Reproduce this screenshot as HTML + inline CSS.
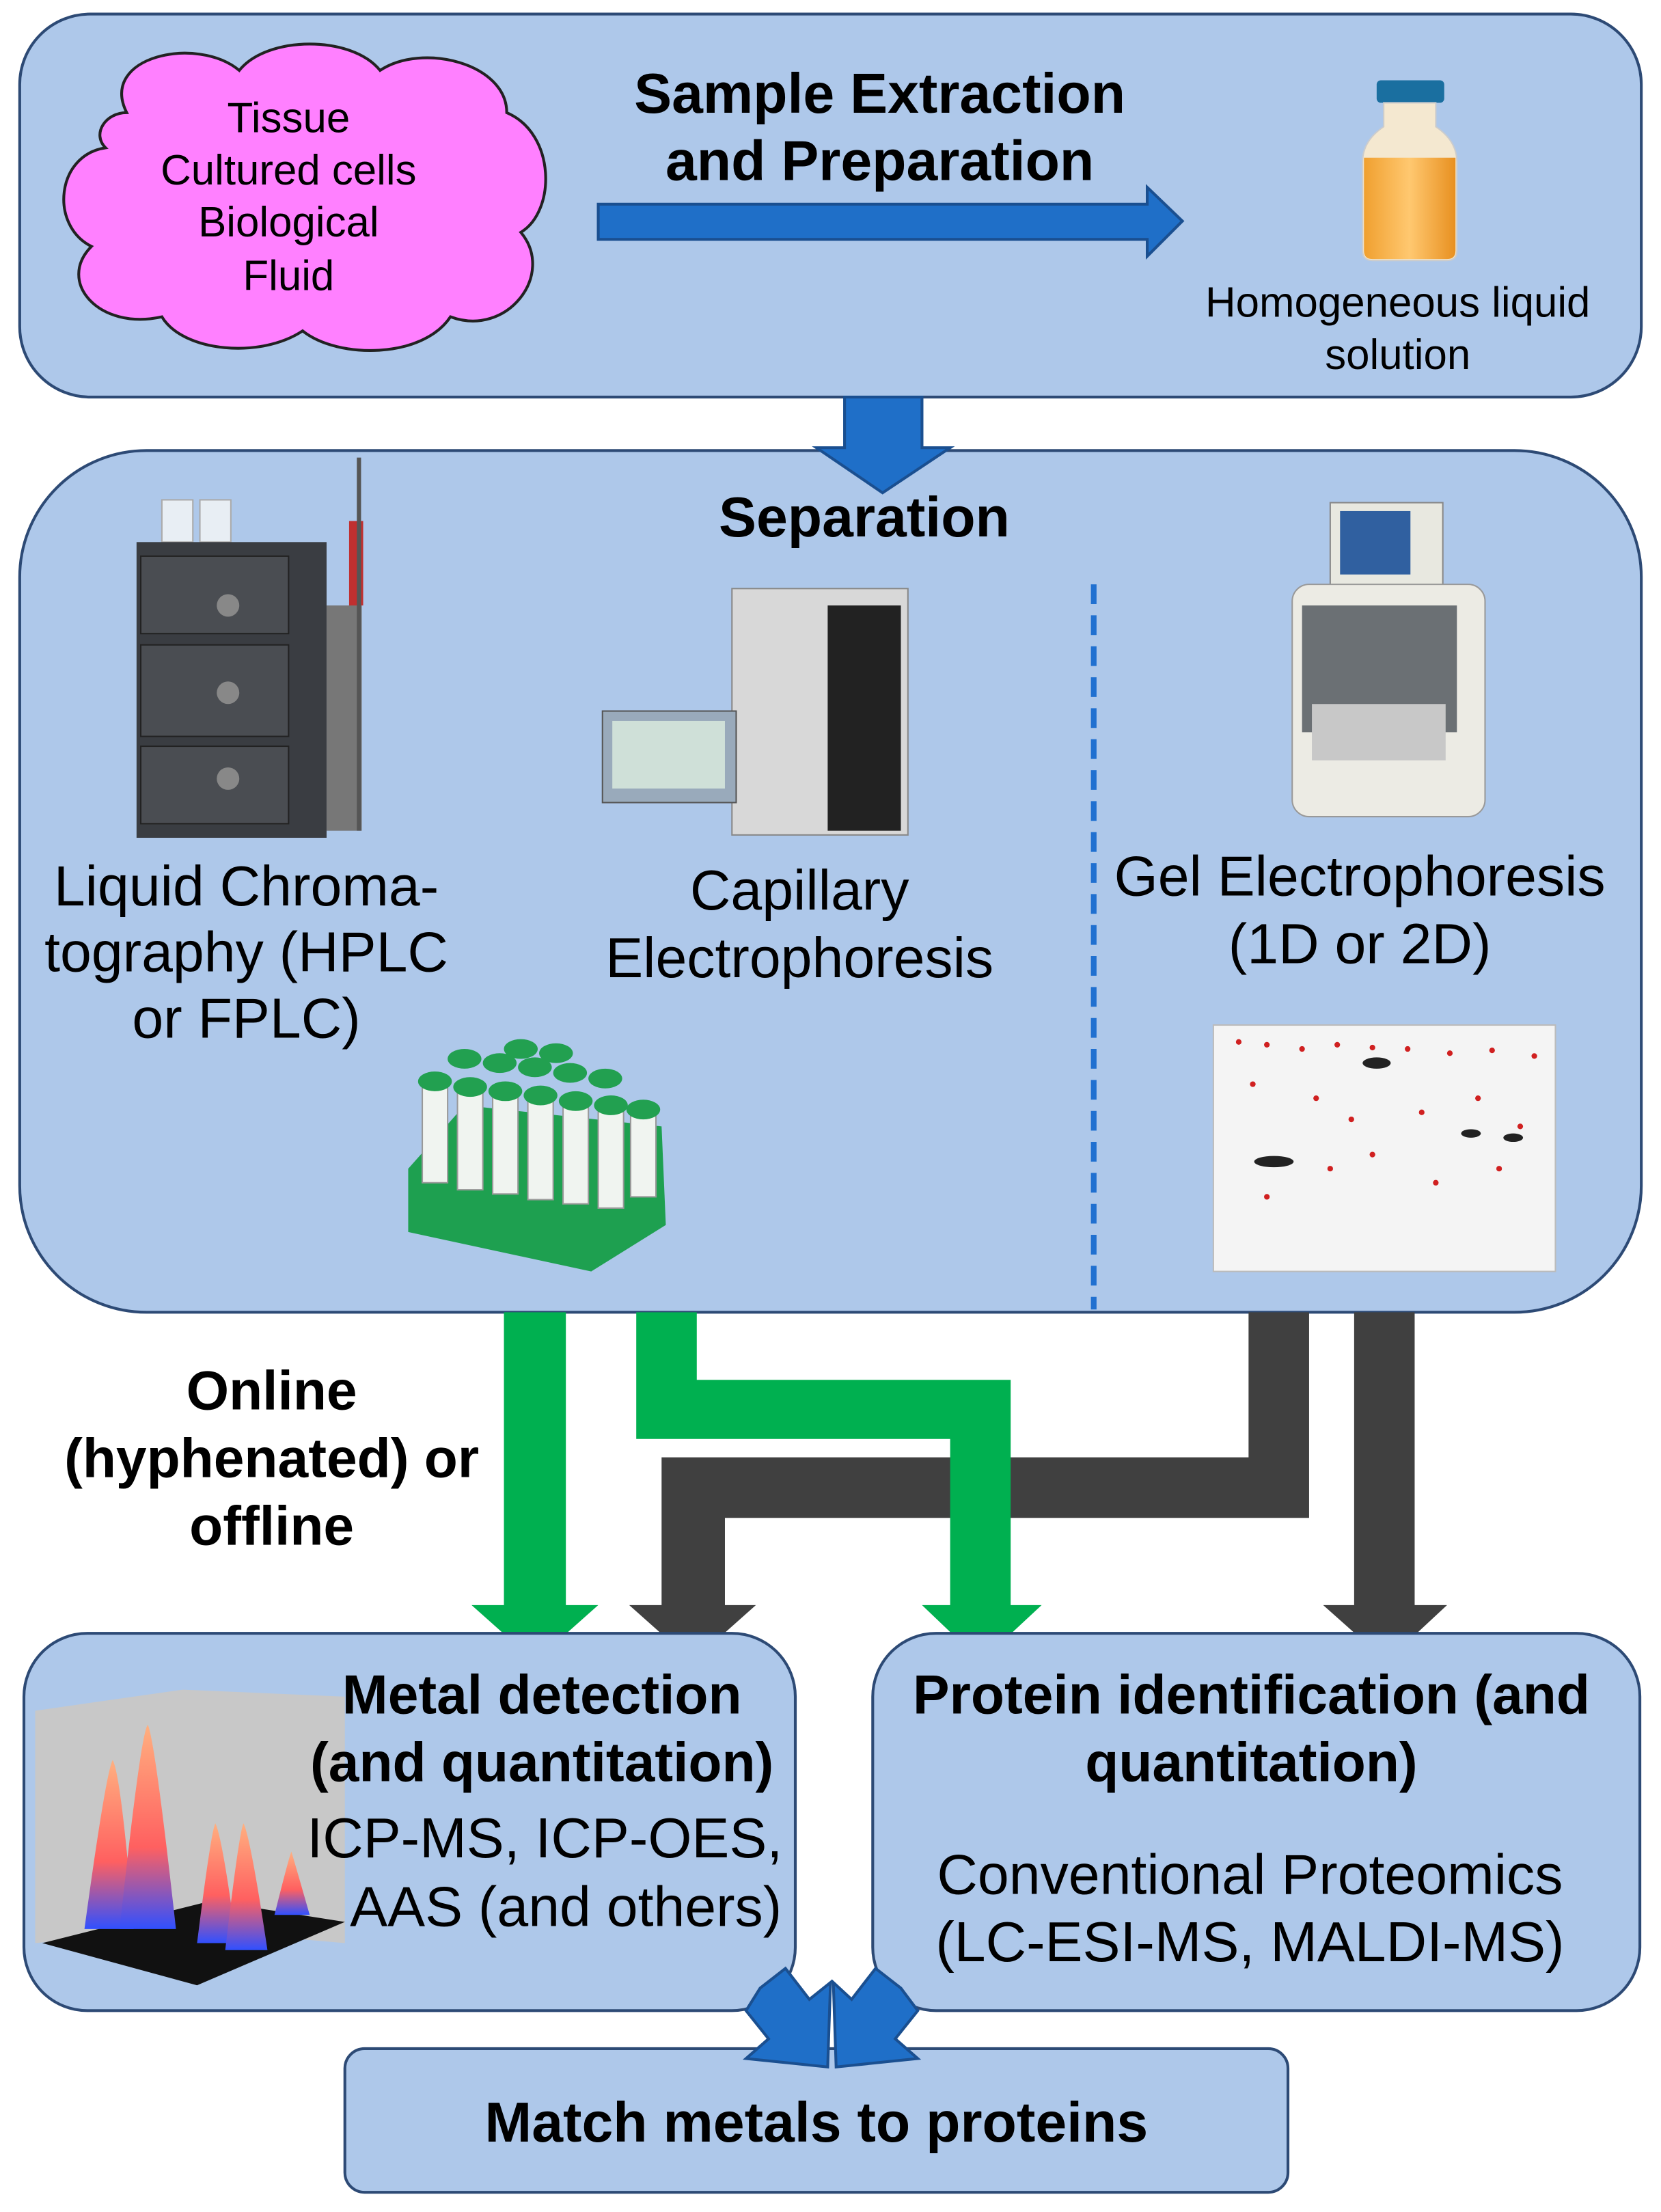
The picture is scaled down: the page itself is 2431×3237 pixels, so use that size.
<!DOCTYPE html>
<html><head><meta charset="utf-8"><style>html,body{margin:0;padding:0;background:#fff}svg{display:block}text{font-family:"Liberation Sans",Arial,sans-serif}</style></head>
<body>
<svg width="2431" height="3237" viewBox="0 0 1180 1571" preserveAspectRatio="none" xmlns="http://www.w3.org/2000/svg">
<defs>
<linearGradient id="liq" x1="0" x2="1"><stop offset="0" stop-color="#f0a030"/><stop offset="0.5" stop-color="#ffc870"/><stop offset="1" stop-color="#e89020"/></linearGradient>
<linearGradient id="pk" x1="0" y1="1" x2="0" y2="0"><stop offset="0" stop-color="#3050ff"/><stop offset="0.4" stop-color="#ff6060"/><stop offset="1" stop-color="#ffb080"/></linearGradient>
</defs>
<rect x="14" y="10" width="1152" height="272" rx="50" fill="#aec8ea" stroke="#2d4a75" stroke-width="2"/>
<g fill="#ff80ff" stroke="#222" stroke-width="2">
<path d="M90,80 C70,40 140,25 170,50 C190,25 250,25 270,50 C300,30 360,45 360,80 C395,95 395,150 370,165 C395,195 360,240 320,225 C300,255 240,255 215,235 C185,255 130,250 115,225 C70,235 40,200 65,175 C35,160 40,110 75,105 C65,95 75,80 90,80 Z"/>
</g>
<g font-size="30" text-anchor="middle" fill="#000">
<text x="205" y="94">Tissue</text><text x="205" y="131">Cultured cells</text><text x="205" y="168">Biological</text><text x="205" y="206">Fluid</text>
</g>
<g font-size="40" font-weight="bold" text-anchor="middle"><text x="625" y="80">Sample Extraction</text><text x="625" y="128">and Preparation</text></g>
<path d="M425,145 L815,145 L815,133 L840,157 L815,182 L815,170 L425,170 Z" fill="#1f6fc8" stroke="#1a4f90" stroke-width="2"/>
<rect x="978" y="57" width="48" height="16" rx="3" fill="#1a6fa0"/>
<path d="M983,73 L1020,73 L1020,90 Q1035,100 1035,115 L1035,178 Q1035,185 1028,185 L975,185 Q968,185 968,178 L968,115 Q968,100 983,90 Z" fill="#f4e8d0" stroke="#ccc"/>
<path d="M969,112 L1034,112 L1034,178 Q1034,184 1028,184 L975,184 Q969,184 969,178 Z" fill="url(#liq)"/>
<g font-size="30" text-anchor="middle"><text x="993" y="225">Homogeneous liquid</text><text x="993" y="262">solution</text></g>
<rect x="14" y="320" width="1152" height="612" rx="90" fill="#aec8ea" stroke="#2d4a75" stroke-width="2"/>
<path d="M600,282 L655,282 L655,318 L675,318 L627,350 L580,318 L600,318 Z" fill="#1f6fc8" stroke="#1a4f90" stroke-width="2"/>
<text x="614" y="381" font-size="40" font-weight="bold" text-anchor="middle">Separation</text>
<line x1="777" y1="415" x2="777" y2="930" stroke="#2070d0" stroke-width="4" stroke-dasharray="14,8"/>
<g>
<rect x="115" y="355" width="22" height="30" fill="#e8eef4" stroke="#aaa"/><rect x="142" y="355" width="22" height="30" fill="#e8eef4" stroke="#aaa"/>
<rect x="97" y="385" width="135" height="210" fill="#3a3d42"/>
<rect x="100" y="395" width="105" height="55" fill="#4a4d52" stroke="#222"/><rect x="100" y="458" width="105" height="65" fill="#4a4d52" stroke="#222"/><rect x="100" y="530" width="105" height="55" fill="#4a4d52" stroke="#222"/>
<circle cx="162" cy="430" r="8" fill="#888"/><circle cx="162" cy="492" r="8" fill="#888"/><circle cx="162" cy="553" r="8" fill="#888"/>
<rect x="232" y="430" width="25" height="160" fill="#777"/><rect x="248" y="370" width="10" height="60" fill="#c03030"/><line x1="255" y1="325" x2="255" y2="590" stroke="#555" stroke-width="3"/>
</g>
<g>
<rect x="520" y="418" width="125" height="175" fill="#d8d8d8" stroke="#888"/>
<rect x="588" y="430" width="52" height="160" fill="#222"/>
<rect x="428" y="505" width="95" height="65" fill="#9ab" stroke="#555"/><rect x="435" y="512" width="80" height="48" fill="#cfe0d8"/>
</g>
<g font-size="40" text-anchor="middle">
<text x="175" y="643">Liquid Chroma-</text><text x="175" y="690">tography (HPLC</text><text x="175" y="737">or FPLC)</text>
<text x="568" y="646">Capillary</text><text x="568" y="694">Electrophoresis</text>
<text x="966" y="636">Gel Electrophoresis</text><text x="966" y="684">(1D or 2D)</text>
</g>
<g>
<path d="M290,830 L330,785 L470,800 L473,870 L420,903 L290,875 Z" fill="#1ea050"/>
<g fill="#f0f4f0" stroke="#999">
<rect x="300" y="770" width="18" height="70"/><rect x="325" y="775" width="18" height="70"/><rect x="350" y="778" width="18" height="70"/><rect x="375" y="782" width="18" height="70"/><rect x="400" y="785" width="18" height="70"/><rect x="425" y="788" width="18" height="70"/><rect x="448" y="790" width="18" height="60"/>
</g>
<g fill="#22a050"><ellipse cx="309" cy="768" rx="12" ry="7"/><ellipse cx="334" cy="772" rx="12" ry="7"/><ellipse cx="359" cy="775" rx="12" ry="7"/><ellipse cx="384" cy="778" rx="12" ry="7"/><ellipse cx="409" cy="782" rx="12" ry="7"/><ellipse cx="434" cy="785" rx="12" ry="7"/><ellipse cx="457" cy="788" rx="12" ry="7"/>
<ellipse cx="330" cy="752" rx="12" ry="7"/><ellipse cx="355" cy="755" rx="12" ry="7"/><ellipse cx="380" cy="758" rx="12" ry="7"/><ellipse cx="405" cy="762" rx="12" ry="7"/><ellipse cx="430" cy="766" rx="12" ry="7"/><ellipse cx="370" cy="745" rx="12" ry="7"/><ellipse cx="395" cy="748" rx="12" ry="7"/></g>
</g>
<g>
<rect x="945" y="357" width="80" height="60" fill="#e8e8e0" stroke="#888"/><rect x="952" y="363" width="50" height="45" fill="#3060a0"/>
<rect x="918" y="415" width="137" height="165" rx="12" fill="#ecebe4" stroke="#999"/>
<rect x="925" y="430" width="110" height="90" fill="#555a60" opacity="0.85"/>
<rect x="932" y="500" width="95" height="40" fill="#c8c8c8"/>
</g>
<rect x="862" y="728" width="243" height="175" fill="#f4f4f4" stroke="#bbb"/>
<g fill="#d02020">
<circle cx="880" cy="740" r="2"/><circle cx="900" cy="742" r="2"/><circle cx="925" cy="745" r="2"/><circle cx="950" cy="742" r="2"/><circle cx="975" cy="744" r="2"/><circle cx="1000" cy="745" r="2"/><circle cx="1030" cy="748" r="2"/><circle cx="1060" cy="746" r="2"/><circle cx="1090" cy="750" r="2"/>
<circle cx="890" cy="770" r="2"/><circle cx="935" cy="780" r="2"/><circle cx="960" cy="795" r="2"/><circle cx="1010" cy="790" r="2"/><circle cx="1050" cy="780" r="2"/><circle cx="1080" cy="800" r="2"/><circle cx="945" cy="830" r="2"/><circle cx="975" cy="820" r="2"/><circle cx="1020" cy="840" r="2"/><circle cx="1065" cy="830" r="2"/><circle cx="900" cy="850" r="2"/>
</g>
<g fill="#222"><ellipse cx="905" cy="825" rx="14" ry="4"/><ellipse cx="978" cy="755" rx="10" ry="4"/><ellipse cx="1045" cy="805" rx="7" ry="3"/><ellipse cx="1075" cy="808" rx="7" ry="3"/></g>
<g fill="#404040">
<path d="M887,932 L930,932 L930,1078 L515,1078 L515,1140 L537,1140 L492,1180 L447,1140 L470,1140 L470,1035 L887,1035 Z"/>
<path d="M962,932 L1005,932 L1005,1140 L1028,1140 L985,1180 L940,1140 L962,1140 Z"/>
</g>
<g fill="#00b050">
<path d="M358,932 L402,932 L402,1140 L425,1140 L380,1180 L335,1140 L358,1140 Z"/>
<path d="M452,932 L495,932 L495,980 L718,980 L718,1140 L740,1140 L697,1180 L655,1140 L675,1140 L675,1022 L452,1022 Z"/>
</g>
<g font-size="39" font-weight="bold" text-anchor="middle"><text x="193" y="1001">Online</text><text x="193" y="1049">(hyphenated) or</text><text x="193" y="1097">offline</text></g>
<rect x="17" y="1160" width="548" height="268" rx="45" fill="#aec8ea" stroke="#2d4a75" stroke-width="2"/>
<rect x="620" y="1160" width="545" height="268" rx="45" fill="#aec8ea" stroke="#2d4a75" stroke-width="2"/>
<g>
<path d="M25,1215 L130,1200 L245,1205 L245,1380 L130,1370 L25,1380 Z" fill="#c8c8c8"/>
<path d="M30,1380 L150,1350 L245,1365 L140,1410 Z" fill="#111"/>
<g fill="url(#pk)"><path d="M60,1370 Q75,1260 80,1250 Q86,1260 95,1370 Z"/><path d="M85,1370 Q100,1230 105,1225 Q110,1235 125,1370 Z"/><path d="M140,1380 Q150,1300 153,1295 Q158,1305 168,1380 Z"/><path d="M160,1385 Q170,1300 173,1295 Q178,1305 190,1385 Z"/><path d="M195,1360 Q205,1320 207,1315 Q210,1325 220,1360 Z"/></g>
</g>
<g font-size="39" font-weight="bold" text-anchor="middle"><text x="385" y="1217">Metal detection</text><text x="385" y="1265">(and quantitation)</text>
<text x="889" y="1217">Protein identification (and</text><text x="889" y="1265">quantitation)</text></g>
<g font-size="40" text-anchor="middle"><text x="387" y="1319">ICP-MS, ICP-OES,</text><text x="402" y="1368">AAS (and others)</text>
<text x="888" y="1345">Conventional Proteomics</text><text x="888" y="1393">(LC-ESI-MS, MALDI-MS)</text></g>
<rect x="245" y="1455" width="670" height="102" rx="14" fill="#aec8ea" stroke="#2d4a75" stroke-width="2"/>
<text x="580" y="1521" font-size="40" font-weight="bold" text-anchor="middle">Match metals to proteins</text>
<g fill="#1f6fc8" stroke="#1a4f90" stroke-width="2">
<path d="M540,1412 L558,1398 L575,1420 L590,1408 L588,1468 L530,1462 L546,1448 L530,1428 Z"/>
<path d="M640,1412 L622,1398 L605,1420 L592,1408 L594,1468 L652,1462 L636,1448 L652,1428 Z"/>
</g>
</svg>
</body></html>
